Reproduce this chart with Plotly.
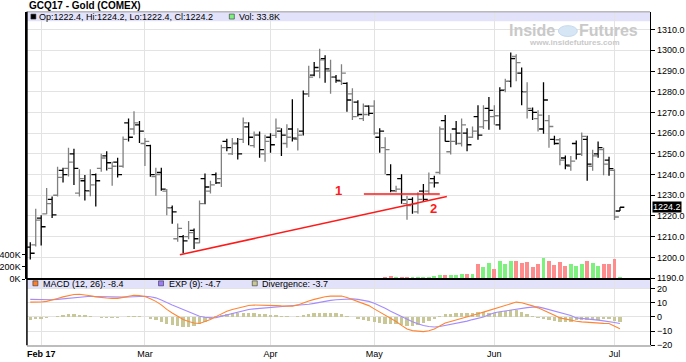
import plotly.graph_objects as go

W, H = 686, 362

# ---------------- data ----------------
month_ticks_idx = [2, 21, 44, 63, 85, 107]
month_labels = ["<b>Feb 17</b>", "Mar", "Apr", "May", "Jun", "Jul"]

opens = [1205,1206,1219,1221,1228,1230,1242,1243,1250,1231,
         1237,1232,1240,1243,1249,1243,1246,1244,1265,1262,
         1264,1255,1254,1239,1241,1232,1224,1209,1210,1210,
         1213,1207,1238,1232,1240,1238,1256,1250,1255,1257,
         1263,1254,1259,1250,1258,1258.9,1261,1255,1262,1257,
         1261,1279,1288,1290,1296,1290,1287,1285,1284,1279,
         1275,1267,1273,1273,1258,1253,1240,1232,1238,1226,
         1228,1222,1232,1232,1238,1241,1266,1251,1262,1255,
         1260,1258,1268,1263,1272,1268,1264,1281,1285,1297,
         1289,1280,1271,1267,1262,1266,1257,1256.8,1248,1244,
         1255,1250,1257,1244,1250,1252,1247,1242,1222.4]
highs = [1207.3,1223.5,1220.3,1233.5,1229.4,1243.8,1243.3,1252.9,1252.5,1242.5,
         1239.8,1242.5,1240.5,1250,1251.3,1246.2,1248.1,1258.4,1267.1,1270.6,
         1265.9,1257.6,1254.4,1243.3,1243.3,1233,1225.1,1216.4,1210.8,1217.6,
         1214,1227.5,1240.5,1237,1241,1254.4,1257.3,1257.6,1257.6,1267.5,
         1265.2,1260.8,1260.8,1259.2,1260,1267.1,1262.4,1264.3,1276.4,1262.4,
         1280.6,1292.5,1294.4,1300.8,1297.6,1295.4,1288.1,1293.3,1284.6,1281.7,
         1275.9,1274.3,1273.5,1275.9,1262.4,1258,1245,1234.6,1240.2,1229.8,
         1229,1231.4,1235.4,1241,1239.4,1263.2,1268.7,1260,1265.9,1267.1,
         1262.4,1263.2,1273.5,1273.5,1277.5,1273.5,1282.2,1286.2,1298.9,1298.1,
         1291.7,1284.6,1272.4,1271.1,1284.6,1268.7,1258.7,1257.6,1249.2,1248.9,
         1256.5,1260.3,1258.7,1252,1256,1252.9,1248.6,1242.5,1224.2]
lows = [1199,1205.2,1205.7,1220.8,1219,1229.4,1236.2,1239.1,1235,1229.4,
        1227.5,1229.5,1224.6,1241.4,1242,1234.6,1238.6,1243.3,1256,1259.2,
        1255.2,1244.1,1238.9,1229.8,1232.2,1220.3,1216.3,1207.6,1202,1208.7,
        1204,1206.8,1225.6,1230.9,1235.4,1234,1251.3,1249.4,1247.3,1255.2,
        1254.1,1252.9,1248.1,1246.2,1250.5,1257.6,1248.9,1252.9,1256,1251.6,
        1258.9,1277.5,1287.5,1286.5,1284.3,1279,1284.3,1283.3,1270.3,1266.3,
        1268,1265.9,1268.4,1259.2,1250.5,1240.2,1231.4,1231.4,1225.9,1218.2,
        1221.1,1221.1,1226.7,1230.6,1233.8,1240.2,1256,1249.7,1254.4,1253.6,
        1251.3,1257.6,1256.8,1262,1261.6,1264,1261.6,1279.8,1282.2,1285.1,
        1273.5,1267.1,1266.3,1260.8,1259.7,1252.9,1254.4,1244.5,1242.5,1241.8,
        1247.3,1248.9,1237,1241.8,1248.1,1239.7,1239.4,1218,1222.4]
closes = [1202,1218,1214.8,1226,1220.5,1238.6,1240,1246,1243,1238,
          1232.2,1235,1237,1248,1245.7,1244,1240,1257,1258,1265,
          1261,1256,1240,1240,1233,1224,1222,1214,1208,1212,
          1209,1226,1234,1235,1236,1253,1253,1255,1250,1265,
          1258,1259,1252,1256,1254.4,1262.4,1259,1258,1257.6,1259,
          1279,1287,1291.7,1295.4,1291,1287,1285.5,1289,1276,1268,
          1269,1269,1269.5,1260,1261,1252,1232.2,1233,1227.8,1225,
          1226,1228,1228,1236,1236,1262,1256,1256,1260,1264,
          1254.4,1261,1259,1266,1271,1268.4,1280.6,1285,1296,1294,
          1280,1272,1270,1268.7,1276,1263.2,1255,1247,1244.5,1246.5,
          1249.7,1258.4,1245,1249,1253,1245,1242.9,1219.5,1224.2]

# volume in contracts
volume = [6000,8000,5000,7000,6000,9000,5000,6000,8000,5000,
          6000,5000,7000,6000,5000,8000,6000,9000,7000,6000,
          8000,7000,9000,6000,8000,7000,9000,8000,6000,7000,
          9000,10000,8000,7000,6000,9000,8000,7000,9000,8000,
          10000,9000,8000,12000,10000,9000,11000,10000,14000,9000,
          12000,11000,13000,15000,12000,11000,14000,13000,16000,15000,
          14000,13000,16000,18000,20000,30000,45000,35000,40000,35000,
          30000,38000,35000,40000,45000,60000,70000,65000,70000,75000,
          80000,90000,240000,200000,260000,170000,290000,250000,300000,290000,
          260000,280000,200000,240000,340000,290000,230000,280000,210000,240000,
          220000,250000,290000,260000,220000,250000,250000,330000,33800]

macd = [10.5,10.4,10.6,11.0,11.8,13.0,14.2,15.3,15.9,16.0,
        15.6,15.0,14.2,13.6,13.4,13.1,13.1,13.8,14.8,15.3,
        15.2,14.5,12.9,11.0,8.5,5.3,2.8,0.5,-1.9,-3.3,
        -4.3,-4.7,-3.5,-1.9,0.2,2.2,4.0,5.3,6.4,7.3,
        8.1,8.4,8.4,8.2,8.1,8.0,7.8,7.6,7.6,8.5,
        10.0,11.3,12.4,13.5,14.3,14.7,14.9,14.8,13.8,12.4,
        11.0,9.6,8.0,5.7,3.5,1.4,-0.7,-3.3,-6.0,-8.6,
        -9.7,-10.3,-10.4,-9.8,-8.6,-6.5,-4.3,-3.2,-2.2,-1.2,
        -0.2,1.0,2.2,3.4,4.6,5.7,7.0,8.3,9.6,10.5,
        10.0,9.0,7.8,6.4,4.8,3.0,1.2,-0.7,-1.6,-2.4,
        -3.1,-3.5,-3.9,-4.3,-4.4,-4.6,-4.7,-6.8,-8.4]
exp_signal = [12.4,12.2,12.1,12.0,12.1,12.4,12.8,13.3,13.8,14.3,
              14.5,14.6,14.5,14.3,14.2,14.1,14.0,14.0,14.1,14.4,
              14.6,14.6,14.3,13.5,12.0,10.0,8.5,6.9,5.3,3.6,
              2.0,0.5,-0.2,-0.7,-0.5,0.5,1.7,2.7,3.6,4.5,
              5.3,5.7,6.0,6.2,6.4,6.7,7.0,7.3,7.6,8.0,
              8.5,9.0,9.6,10.4,11.2,11.7,12.1,12.4,12.9,12.8,
              12.4,11.8,11.0,9.6,8.0,6.2,4.0,2.0,0.0,-1.9,
              -3.4,-4.8,-6.1,-6.8,-7.1,-6.8,-6.1,-5.5,-4.7,-3.9,
              -3.0,-1.9,-1.0,0.0,1.5,2.9,3.6,4.3,5.0,5.7,
              6.2,6.6,6.9,7.1,6.2,5.2,4.1,2.9,2.0,1.0,
              -0.7,-1.0,-1.4,-1.9,-2.3,-2.8,-3.1,-3.9,-4.7]
divergence = [-1.9,-1.8,-1.5,-1.0,-0.3,0.6,1.4,2.0,2.1,1.7,
              1.1,0.4,-0.3,-0.7,-0.8,-1.0,-0.9,-0.2,0.7,0.9,
              0.6,-0.1,-1.4,-2.5,-3.5,-4.7,-5.7,-6.4,-7.2,-6.9,
              -6.3,-5.2,-3.3,-1.2,0.7,1.7,2.3,2.6,2.8,2.8,
              2.8,2.7,2.4,2.0,1.7,1.3,0.8,0.3,0.0,0.5,
              1.5,2.3,2.8,3.1,3.1,3.0,2.8,2.4,0.9,-0.4,
              -1.4,-2.2,-3.0,-3.9,-4.5,-4.8,-4.7,-5.3,-6.0,-6.7,
              -6.3,-5.5,-4.3,-3.0,-1.5,0.3,1.8,2.3,2.5,2.7,
              2.8,2.9,3.2,3.4,3.1,2.8,3.4,4.0,4.6,4.8,
              3.8,2.4,0.9,-0.7,-1.4,-2.2,-2.9,-3.6,-3.6,-3.4,
              -2.4,-2.5,-2.5,-2.4,-2.1,-1.8,-1.6,-2.9,-3.7]

price_ticks = [1190, 1200, 1210, 1220, 1230, 1240, 1250, 1260, 1270, 1280, 1290, 1300, 1310]
vol_ticks = [0, 200000, 400000]
vol_tick_labels = ["0K", "200K", "400K"]
macd_ticks = [-20, -10, 0, 10, 20]

trend_x = [27.4, 76.3]
trend_y = [1201.3, 1229.4]
level1_x = [61.1, 75.0]
level1_y = [1230.6, 1230.6]

# ---------------- helpers ----------------
def fx(px):
    return px / W

def fy(py):
    return 1 - py / H

n = len(closes)
idx = list(range(n))

X0, X1 = 25, 650
P_TOP, P_BOT = 12, 283
M_TOP, M_BOT = 283, 350

FONT = "Liberation Sans, Arial, sans-serif"

fig = go.Figure()

# volume bars (overlay on price panel)
vol_colors = []
for i in idx:
    prev = closes[i - 1] if i > 0 else closes[i]
    vol_colors.append("#7ef07e" if closes[i] >= prev else "#ff8c8c")
fig.add_trace(go.Bar(x=idx, y=volume, marker=dict(color=vol_colors, line=dict(width=0)),
                     width=0.72, xaxis="x", yaxis="y2", showlegend=False, hoverinfo="skip"))

# OHLC bars, alternating shade
for parity, col in ((0, "#000000"), (1, "#808080")):
    sel = [i for i in idx if i % 2 == parity]
    fig.add_trace(go.Ohlc(
        x=sel, open=[opens[i] for i in sel], high=[highs[i] for i in sel],
        low=[lows[i] for i in sel], close=[closes[i] for i in sel],
        increasing=dict(line=dict(color=col, width=1.3)),
        decreasing=dict(line=dict(color=col, width=1.3)),
        tickwidth=0.4, xaxis="x", yaxis="y", showlegend=False, hoverinfo="skip"))

# red annotation lines
fig.add_trace(go.Scatter(x=trend_x, y=trend_y, mode="lines", line=dict(color="#ff1a1a", width=1.6),
                         xaxis="x", yaxis="y", showlegend=False, hoverinfo="skip"))
fig.add_trace(go.Scatter(x=level1_x, y=level1_y, mode="lines", line=dict(color="#ff1a1a", width=1.6),
                         xaxis="x", yaxis="y", showlegend=False, hoverinfo="skip"))

# MACD panel
fig.add_trace(go.Bar(x=idx, y=divergence, marker=dict(color="#c8c896", line=dict(width=0)),
                     width=0.62, xaxis="x", yaxis="y3", showlegend=False, hoverinfo="skip"))
fig.add_trace(go.Scatter(x=idx, y=exp_signal, mode="lines", line=dict(color="#a48cff", width=1.1),
                         xaxis="x", yaxis="y3", showlegend=False, hoverinfo="skip"))
fig.add_trace(go.Scatter(x=idx, y=macd, mode="lines", line=dict(color="#ff8533", width=1.1),
                         xaxis="x", yaxis="y3", showlegend=False, hoverinfo="skip"))

# axis ranges from pixel calibration
px_per_bar = 5.476
x_first = 28.35
x_range = [(X0 - x_first) / px_per_bar, (X1 - x_first) / px_per_bar]
p_scale = 2.1
p_range = [1270 - (P_BOT - 114) / p_scale, 1270 + (114 - P_TOP) / p_scale]
v_per_px = 400000 / 25.0
v_range = [0, (P_BOT - P_TOP) * v_per_px]
m_scale = 57.3 / 40
m_range = [-20, 20 + (292.7 - M_TOP) / m_scale]

grid = "#e3e3e3"
tick_font = dict(family=FONT, size=9, color="#000000")

fig.update_layout(
    width=W, height=H, margin=dict(l=0, r=0, t=0, b=0),
    paper_bgcolor="white", plot_bgcolor="white",
    bargap=0, barmode="overlay",
    xaxis=dict(domain=[fx(X0), fx(X1)], range=x_range, anchor="y3",
               tickmode="array", tickvals=month_ticks_idx, ticktext=month_labels,
               showgrid=True, gridcolor=grid, gridwidth=1, zeroline=False,
               showline=True, linecolor="#bdbdbd", linewidth=1.5,
               ticks="", tickfont=tick_font, rangeslider=dict(visible=False)),
    yaxis=dict(domain=[fy(P_BOT), fy(P_TOP)], range=p_range, side="right", anchor="x",
               tickmode="array", tickvals=price_ticks, tickformat=".1f",
               showgrid=True, gridcolor=grid, gridwidth=1, zeroline=False,
               showline=True, linecolor="#000000", linewidth=1,
               ticks="outside", ticklen=4, tickcolor="#000000", tickfont=tick_font),
    yaxis2=dict(domain=[fy(P_BOT), fy(P_TOP)], range=v_range, side="left", overlaying="y", anchor="x",
                tickmode="array", tickvals=vol_ticks, ticktext=vol_tick_labels,
                showgrid=False, zeroline=False, showline=True, linecolor="#000000", linewidth=1.5,
                ticks="outside", ticklen=3, tickcolor="#000000", tickfont=tick_font),
    yaxis3=dict(domain=[fy(M_BOT), fy(M_TOP)], range=m_range, side="right", anchor="x",
                tickmode="array", tickvals=macd_ticks,
                showgrid=True, gridcolor=grid, gridwidth=1, zeroline=False,
                showline=True, linecolor="#000000", linewidth=1,
                ticks="outside", ticklen=4, tickcolor="#000000", tickfont=tick_font),
)

shapes = []
# legend strips
for top in (P_TOP, M_TOP):
    shapes.append(dict(type="rect", xref="paper", yref="paper", x0=fx(X0), x1=fx(X1),
                       y0=fy(top + 9.5), y1=fy(top), fillcolor="#e2e2fa", line=dict(width=0), layer="below"))
# panel borders
shapes.append(dict(type="line", xref="paper", yref="paper", x0=fx(X0), x1=fx(X1), y0=fy(P_TOP), y1=fy(P_TOP),
                   line=dict(color="#9a9a9a", width=1)))
shapes.append(dict(type="line", xref="paper", yref="paper", x0=fx(X0), x1=fx(X1), y0=fy(P_BOT), y1=fy(P_BOT),
                   line=dict(color="#000000", width=2)))
shapes.append(dict(type="line", xref="paper", yref="paper", x0=fx(X0), x1=fx(X0), y0=fy(M_BOT), y1=fy(P_TOP),
                   line=dict(color="#000000", width=1.5)))
# legend squares
def square(x, y, color):
    shapes.append(dict(type="rect", xref="paper", yref="paper", x0=fx(x), x1=fx(x + 5),
                       y0=fy(y + 5), y1=fy(y), fillcolor=color, line=dict(color="#333333", width=0.6)))
square(29, 14.3, "#000000")
square(228, 14.3, "#7ef07e")
square(31, 284.8, "#ff7f27")
square(157, 284.8, "#9d7dff")
square(251, 284.8, "#c8c896")
# watermark logo
shapes.append(dict(type="circle", xref="paper", yref="paper", x0=fx(558), x1=fx(577),
                   y0=fy(37), y1=fy(26), fillcolor="#d6e6f5", line=dict(color="#c5d9ee", width=1)))
fig.update_layout(shapes=shapes)

ann = []
def text(x, y, s, size=9, color="#000000", anchor="left", bold=False, bg=None):
    d = dict(xref="paper", yref="paper", x=fx(x), y=fy(y), text=("<b>%s</b>" % s) if bold else s,
             showarrow=False, xanchor=anchor, yanchor="middle",
             font=dict(family=FONT, size=size, color=color))
    if bg:
        d.update(bgcolor=bg, borderpad=0)
    ann.append(d)

text(25, 6, "GCQ17 - Gold (COMEX)", size=10, bold=True)
text(35, 17, "Op:1222.4, Hi:1224.2, Lo:1222.4, Cl:1224.2")
text(236, 17, "Vol: 33.8K")
text(39, 287.5, "MACD (12, 26): -8.4")
text(165, 287.5, "EXP (9): -4.7")
text(259, 287.5, "Divergence: -3.7")
# watermark
text(557, 30.5, "Inside", size=16, color="#c9c9c9", anchor="right", bold=True)
text(577, 30.5, "Futures", size=16, color="#c9c9c9", anchor="left", bold=True)
text(574, 43, "www.insidefutures.com", size=8, color="#c9c9c9", anchor="center", bold=True)
# last price marker
ann.append(dict(xref="paper", yref="y", x=fx(652), y=closes[-1], text="1224.2", showarrow=False,
                xanchor="left", yanchor="middle", bgcolor="#000000", borderpad=0,
                font=dict(family=FONT, size=9, color="#ffffff")))
# red labels
ann.append(dict(xref="x", yref="y", x=56.4, y=1232.3, text="<b>1</b>", showarrow=False,
                font=dict(family=FONT, size=13, color="#ff1a1a")))
ann.append(dict(xref="x", yref="y", x=73.9, y=1223.6, text="<b>2</b>", showarrow=False,
                font=dict(family=FONT, size=13, color="#ff1a1a")))
fig.update_layout(annotations=ann)

fig.write_html("out.html", config={"displayModeBar": False, "staticPlot": True},
               post_script="document.body.style.margin='0';document.body.style.padding='0';")
